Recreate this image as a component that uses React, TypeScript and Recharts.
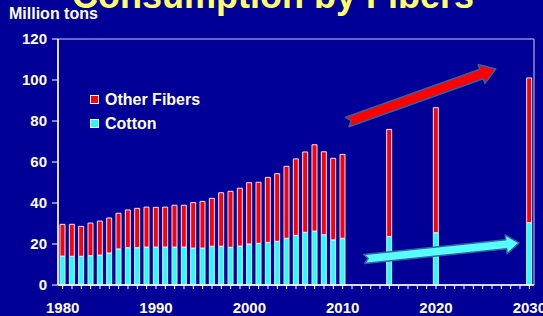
import { BarChart, Bar, XAxis, YAxis, ReferenceArea, ReferenceLine } from 'recharts';

const years = [
  1980, 1981, 1982, 1983, 1984, 1985, 1986, 1987, 1988, 1989,
  1990, 1991, 1992, 1993, 1994, 1995, 1996, 1997, 1998, 1999,
  2000, 2001, 2002, 2003, 2004, 2005, 2006, 2007, 2008, 2009,
  2010, 2015, 2020, 2030,
];
const cotton = [
  14.1, 14, 14, 14.3, 14.6, 15.6, 17.6, 18.2, 18.2, 18.5,
  18.5, 18.5, 18.5, 18.5, 18, 18, 18.9, 18.9, 18.4, 19,
  20, 20.3, 20.8, 21.3, 22.8, 24.2, 25.7, 26.3, 24.5, 22,
  22.8, 23.6, 25.5, 30.4,
];
const otherFibers = [
  15.5, 15.6, 14.6, 15.9, 16.6, 17.1, 17.4, 18.4, 19.2, 19.5,
  19.4, 19.5, 20.4, 20.4, 22.2, 22.8, 23.4, 26.1, 27.3, 28.2,
  29.9, 29.8, 31.7, 33, 35.1, 37.3, 39.2, 42.1, 40.5, 39.8,
  40.9, 52.3, 61, 70.6,
];
const yTicks = [0, 20, 40, 60, 80, 100, 120];
const xTicks = Array.from({ length: 51 }, (_, i) => 1980 + i);

const BG = '#000099';
const RED = '#ff0000';
const CYAN = '#22ffff';
const FONT = 'Liberation Sans, Arial, sans-serif';

const data = years.map((year, i) => ({ year, cotton: cotton[i], other: otherFibers[i] }));

const legendItems = [
  { label: 'Other Fibers', color: RED },
  { label: 'Cotton', color: CYAN },
];

const arrow = (color: string, shaft: number, head: number, headLen: number) => (props: any) => {
  const { x1, y1, x2, y2 } = props;
  const dx = x2 - x1;
  const dy = y2 - y1;
  const len = Math.hypot(dx, dy);
  const ux = dx / len, uy = dy / len;
  const nx = -uy, ny = ux;
  const local = [
    [4, 0], [0, shaft / 2], [len - headLen, shaft / 2], [len - headLen, head / 2],
    [len, 0], [len - headLen, -head / 2], [len - headLen, -shaft / 2], [0, -shaft / 2],
  ];
  const pts = local.map(([a, b]) => `${x1 + a * ux + b * nx},${y1 + a * uy + b * ny}`).join(' ');
  return <polygon points={pts} fill={color} stroke="#3a5f9a" strokeWidth={1.5} strokeLinejoin="round" />;
};

export default function App() {
  return (
    <div style={{ position: 'fixed', left: 0, top: 0, width: 543, height: 316, background: BG, overflow: 'hidden' }}>
      <BarChart
        width={543}
        height={316}
        data={data}
        margin={{ top: 39, right: 9, bottom: 0, left: 0 }}
        barSize={5}
      >
        <ReferenceArea x1={1979.5} x2={2030.5} y1={0} y2={120} fill="none" stroke="#d0d0e8" strokeWidth={1} />
        <XAxis
          dataKey="year"
          type="number"
          domain={[1979.5, 2030.5]}
          ticks={xTicks}
          interval={0}
          allowDataOverflow
          height={31}
          tickSize={4}
          tickMargin={13}
          axisLine={{ stroke: '#fff', strokeWidth: 1.5 }}
          tickLine={{ stroke: '#fff' }}
          tick={{ fill: '#fff', fontSize: 15, fontWeight: 'bold', fontFamily: FONT }}
          tickFormatter={(v: number) => (v % 10 === 0 ? String(v) : '')}
        />
        <YAxis
          domain={[0, 120]}
          ticks={yTicks}
          width={58}
          tickSize={6}
          tickMargin={5}
          axisLine={{ stroke: '#fff', strokeWidth: 1.5 }}
          tickLine={{ stroke: '#fff' }}
          tick={{ fill: '#fff', fontSize: 15, fontWeight: 'bold', fontFamily: FONT }}
        />
        <Bar dataKey="cotton" name="Cotton" stackId="a" fill={CYAN} stroke="#e8e8ff" strokeWidth={1} isAnimationActive={false} />
        <Bar dataKey="other" name="Other Fibers" stackId="a" fill={RED} stroke="#e8e8ff" strokeWidth={1} isAnimationActive={false} />
        <ReferenceLine
          segment={[{ x: 2010.5, y: 79.5 }, { x: 2026.4, y: 105.4 }]}
          shape={arrow(RED, 10, 20, 15)}
        />
        <ReferenceLine
          segment={[{ x: 2012.3, y: 12.7 }, { x: 2028.9, y: 20.5 }]}
          shape={arrow('#55ffff', 9, 19, 13)}
        />
      </BarChart>
      <svg width={543} height={316} style={{ position: 'absolute', left: 0, top: 0, pointerEvents: 'none' }}>
        <text x={273} y={7.5} textAnchor="middle" fill="#ffff66" fontSize={36} fontWeight="bold" fontFamily={FONT}>
          Consumption by Fibers
        </text>
        <text x={9} y={19} fill="#fff" fontSize={16} fontWeight="bold" fontFamily={FONT}>
          Million tons
        </text>
      </svg>
      <div style={{ position: 'absolute', left: 90, top: 87.5, fontFamily: FONT, fontWeight: 'bold', fontSize: 16, color: '#fff' }}>
        {legendItems.map((item) => (
          <div key={item.label} style={{ display: 'flex', alignItems: 'center', height: 24, lineHeight: '24px' }}>
            <span style={{ width: 7, height: 7, border: '1px solid #fff', background: item.color, marginRight: 6 }} />
            {item.label}
          </div>
        ))}
      </div>
    </div>
  );
}
